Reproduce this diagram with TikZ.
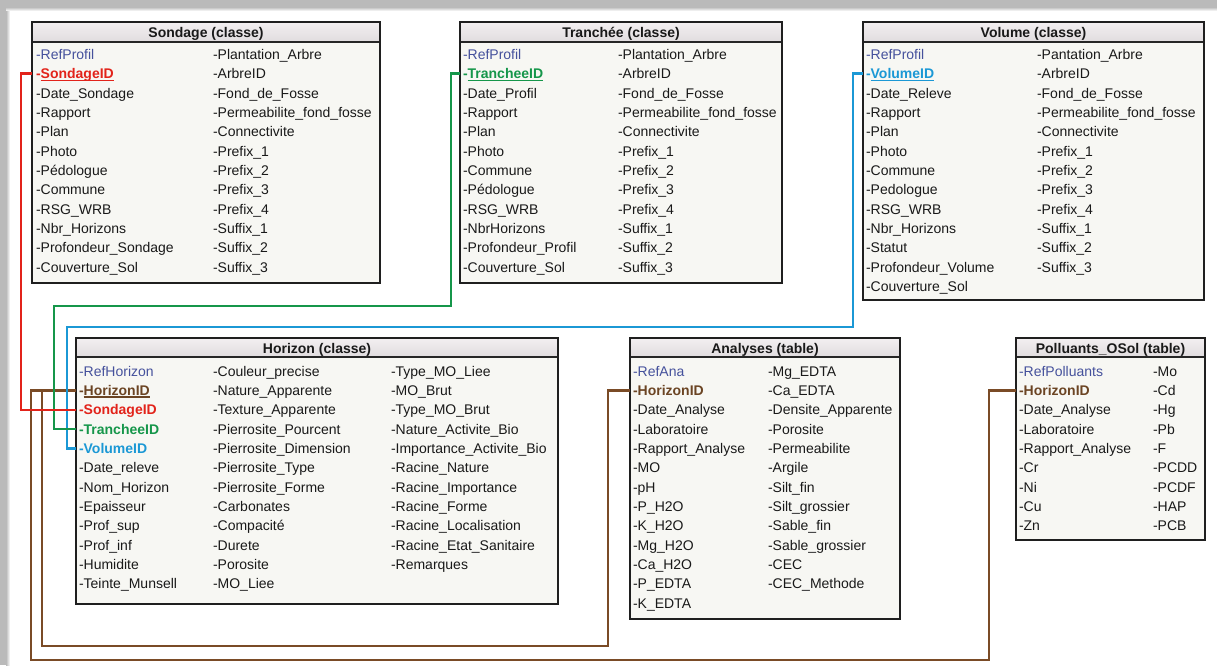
\documentclass[tikz,border=0pt]{standalone}
\usepackage{fontspec}
\setmainfont{Liberation Sans}
\usetikzlibrary{calc}

\definecolor{refblue}{HTML}{45519C}
\definecolor{idred}{HTML}{E2231A}
\definecolor{idgreen}{HTML}{15964A}
\definecolor{idblue}{HTML}{1B98D5}
\definecolor{idbrown}{HTML}{6B4423}
\definecolor{linkbrowncol}{HTML}{7A4B26}
\definecolor{bodycol}{HTML}{F7F7F3}
\definecolor{headtop}{HTML}{F3EFF1}
\definecolor{headbot}{HTML}{E0DCDE}

% underline for primary keys
\newcommand\keyul[1]{\setbox0\hbox{#1}\rlap{\rule[-2.2pt]{\wd0}{1.3pt}}\box0}

\tikzset{
  fld/.style={anchor=west, inner sep=0pt, outer sep=0pt, text height=10pt, text depth=0pt,
              font=\fontsize{14}{16}\selectfont, text=black!90},
  titletext/.style={inner sep=0pt, text height=10pt, text depth=0pt,
              font=\fontsize{14}{16}\selectfont\bfseries, text=black!90},
  bodybox/.style={fill=bodycol, draw=none, inner sep=0pt, outer sep=0pt, anchor=north west},
  headshade/.style={top color=headtop, bottom color=headbot},
  boxframe/.style={draw=black!88, line width=1.9pt, line join=miter},
  sepline/.style={draw=black!85, line width=1.1pt},
  link/.style={line width=2.4pt, line join=miter},
  linkred/.style={draw=idred},
  linkgreen/.style={draw=idgreen},
  linkblue/.style={draw=idblue},
  linkbrown/.style={draw=linkbrowncol},
}

% class/table box: name, x1, y1, x2, y2, header height, title
\newcommand\umlbox[7]{%
  \node[bodybox, minimum width={#4-#2}, minimum height={#5-#3}] (#1) at (#2,#3) {};
  \shade[headshade] (#2,#3) rectangle (#4,{#3+#6});
  \draw[sepline] (#2,{#3+#6}) -- (#4,{#3+#6});
  \node[titletext] (#1-title) at ({(#2+#4)/2},{#3+#6/2+0.5}) {#7};
  \draw[boxframe] (#1.north west) rectangle (#1.south east);
}
% column of fields: name prefix, x, first row y, entries
\newcommand\fieldcol[4]{%
  \foreach \t [count=\i] in {#4} \node[fld] (#1\i) at (#2,{#3+19.35*(\i-1)}) {\t};
}

\begin{document}
\begin{tikzpicture}[x=1pt,y=-1pt]
\useasboundingbox (0,0) rectangle (1217,665);
% page and its shadow edges
\fill[white] (0,0) rectangle (1217,665);
\fill[black!27] (0,0) rectangle (1217,7);
\shade[top color=black!27, bottom color=white] (0,7) rectangle (1217,11);
\fill[black!27] (0,0) rectangle (6,665);
\shade[left color=black!27, right color=white] (6,11) rectangle (10,665);

% ---- Sondage ----
\umlbox{sbox}{32}{22}{380}{283}{20}{Sondage (classe)}
\fieldcol{s}{36}{54.3}{{\color{refblue}-RefProfil},{\color{idred}\bfseries-\keyul{SondageID}},-Date\_Sondage,-Rapport,-Plan,-Photo,-Pédologue,-Commune,-RSG\_WRB,-Nbr\_Horizons,-Profondeur\_Sondage,-Couverture\_Sol}
\fieldcol{sb}{213}{54.3}{-Plantation\_Arbre,-ArbreID,-Fond\_de\_Fosse,-Permeabilite\_fond\_fosse,-Connectivite,-Prefix\_1,-Prefix\_2,-Prefix\_3,-Prefix\_4,-Suffix\_1,-Suffix\_2,-Suffix\_3}

% ---- Tranchée ----
\umlbox{tbox}{460}{22}{782}{283}{20}{Tranchée (classe)}
\fieldcol{t}{463}{54.3}{{\color{refblue}-RefProfil},{\color{idgreen}\bfseries-\keyul{TrancheeID}},-Date\_Profil,-Rapport,-Plan,-Photo,-Commune,-Pédologue,-RSG\_WRB,-NbrHorizons,-Profondeur\_Profil,-Couverture\_Sol}
\fieldcol{tb}{618}{54.3}{-Plantation\_Arbre,-ArbreID,-Fond\_de\_Fosse,-Permeabilite\_fond\_fosse,-Connectivite,-Prefix\_1,-Prefix\_2,-Prefix\_3,-Prefix\_4,-Suffix\_1,-Suffix\_2,-Suffix\_3}

% ---- Volume ----
\umlbox{vbox}{863}{22}{1204}{300}{20}{Volume (classe)}
\fieldcol{v}{866}{54.3}{{\color{refblue}-RefProfil},{\color{idblue}\bfseries-\keyul{VolumeID}},-Date\_Releve,-Rapport,-Plan,-Photo,-Commune,-Pedologue,-RSG\_WRB,-Nbr\_Horizons,-Statut,-Profondeur\_Volume,-Couverture\_Sol}
\fieldcol{vb}{1037}{54.3}{-Pantation\_Arbre,-ArbreID,-Fond\_de\_Fosse,-Permeabilite\_fond\_fosse,-Connectivite,-Prefix\_1,-Prefix\_2,-Prefix\_3,-Prefix\_4,-Suffix\_1,-Suffix\_2,-Suffix\_3}

% ---- Horizon ----
\umlbox{hbox}{76}{338}{558}{604}{19}{Horizon (classe)}
\fieldcol{h}{79}{371}{{\color{refblue}-RefHorizon},{\color{idbrown}\bfseries-\keyul{HorizonID}},{\color{idred}\bfseries-SondageID},{\color{idgreen}\bfseries-TrancheeID},{\color{idblue}\bfseries-VolumeID},-Date\_releve,-Nom\_Horizon,-Epaisseur,-Prof\_sup,-Prof\_inf,-Humidite,-Teinte\_Munsell}
\fieldcol{hb}{213}{371}{-Couleur\_precise,-Nature\_Apparente,-Texture\_Apparente,-Pierrosite\_Pourcent,-Pierrosite\_Dimension,-Pierrosite\_Type,-Pierrosite\_Forme,-Carbonates,-Compacité,-Durete,-Porosite,-MO\_Liee}
\fieldcol{hc}{391}{371}{-Type\_MO\_Liee,-MO\_Brut,-Type\_MO\_Brut,-Nature\_Activite\_Bio,-Importance\_Activite\_Bio,-Racine\_Nature,-Racine\_Importance,-Racine\_Forme,-Racine\_Localisation,-Racine\_Etat\_Sanitaire,-Remarques}

% ---- Analyses ----
\umlbox{abox}{630}{338}{900}{619}{19}{Analyses (table)}
\fieldcol{a}{633}{371}{{\color{refblue}-RefAna},{\color{idbrown}\bfseries-HorizonID},-Date\_Analyse,-Laboratoire,-Rapport\_Analyse,-MO,-pH,-P\_H2O,-K\_H2O,-Mg\_H2O,-Ca\_H2O,-P\_EDTA,-K\_EDTA}
\fieldcol{ab}{768}{371}{-Mg\_EDTA,-Ca\_EDTA,-Densite\_Apparente,-Porosite,-Permeabilite,-Argile,-Silt\_fin,-Silt\_grossier,-Sable\_fin,-Sable\_grossier,-CEC,-CEC\_Methode}

% ---- Polluants_OSol ----
\umlbox{pbox}{1016}{338}{1205}{540}{19}{Polluants\_OSol (table)}
\fieldcol{p}{1019}{371}{{\color{refblue}-RefPolluants},{\color{idbrown}\bfseries-HorizonID},-Date\_Analyse,-Laboratoire,-Rapport\_Analyse,-Cr,-Ni,-Cu,-Zn}
\fieldcol{pb}{1153}{371}{-Mo,-Cd,-Hg,-Pb,-F,-PCDD,-PCDF,-HAP,-PCB}

% ---- routing points ----
\coordinate (outerleft) at (31,660);
\coordinate (outerright) at (989,660);
\coordinate (innerleft) at (42,646);
\coordinate (innerright) at (608,646);
\coordinate (bturn) at (853,327);
\coordinate (bdrop) at (67,327);
\coordinate (gturn) at (451,306);
\coordinate (gdrop) at (54,306);

% ---- relations ----
\draw[link, linkbrown] (hbox.west |- h2) -| (outerleft) -- (outerright) |- (pbox.west |- p2);
\draw[link, linkbrown] (innerleft |- h2) -- (innerleft) -- (innerright) |- (abox.west |- a2);
\draw[link, linkblue] (vbox.west |- v2) -| (bturn) -- (bdrop) |- (hbox.west |- h5);
\draw[link, linkgreen] (tbox.west |- t2) -| (gturn) -- (gdrop) |- (hbox.west |- h4);
\draw[link, linkred] (sbox.west |- s2) -- ++(-11,0) |- (hbox.west |- h3);
\end{tikzpicture}
\end{document}
